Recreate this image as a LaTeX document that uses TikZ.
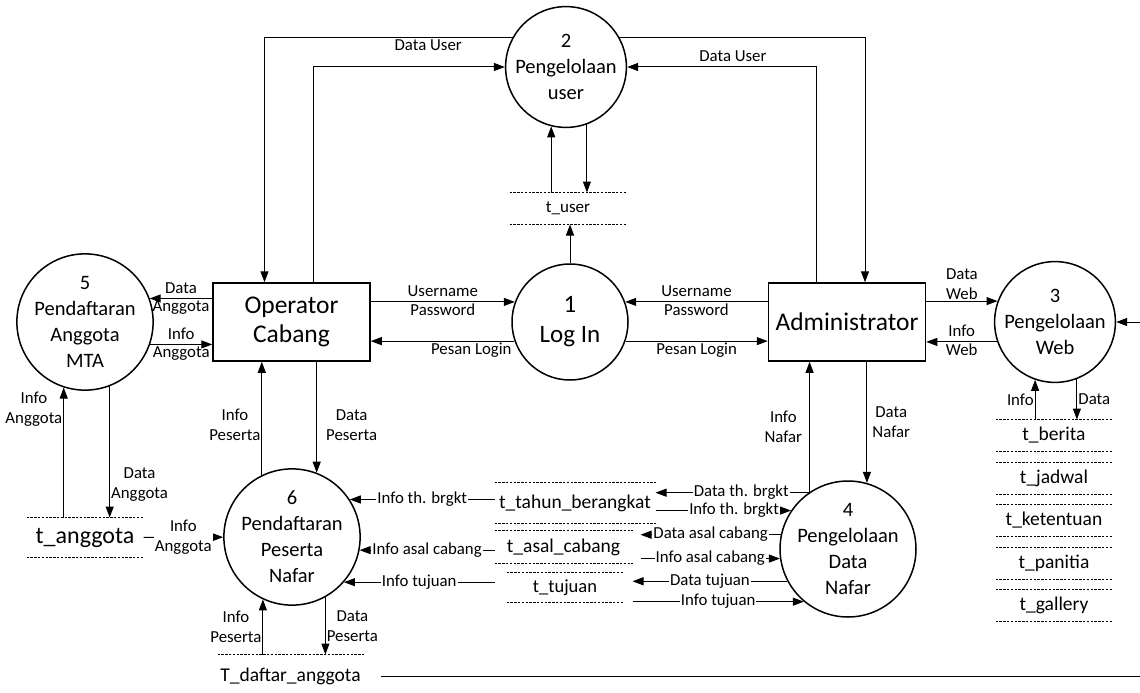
\documentclass[tikz,border=0pt]{standalone}
\usepackage{fontspec}
\setmainfont{Carlito}
\usetikzlibrary{arrows.meta}

\begin{document}
\begin{tikzpicture}[->,>={Triangle[length=11pt,width=8pt]},x=1pt,y=-1pt,
        line width=1pt,node distance=42.5pt,
        proc/.style={circle,draw,line width=1.5pt,minimum size=116pt,inner sep=0pt,
          align=center,font=\fontsize{20.5}{26}\selectfont},
        ent/.style={rectangle,draw,line width=1.5pt,minimum width=157pt,minimum height=78pt,
          align=center,font=\fontsize{25.5}{29}\selectfont},
        store/.style={minimum width=116pt,minimum height=31pt,inner sep=0pt,
          font=\fontsize{19.5}{22}\selectfont},
        dots/.style={-,line width=0.8pt,dash pattern=on 2.4pt off 1.4pt},
        lbl/.style={font=\fontsize{16.8}{20}\selectfont,align=center,inner sep=1pt},
        lbl1/.style={lbl,text height=12pt,text depth=3.5pt}]

  \useasboundingbox (0,0) rectangle (1140,693);

  % proses
  \node[proc,font=\fontsize{25}{30}\selectfont] (1) at (570,322) {1\\Log In};
  \node[proc] (2) at (566,67) {2\\Pengelolaan\\user};
  \node[proc] (3) at (1055,322) {3\\Pengelolaan\\Web};
  \node[proc] (4) at (848,549) {4\\Pengelolaan\\Data\\Nafar};
  \node[proc] (5) at (85,322) {5\\Pendaftaran\\Anggota\\MTA};
  \node[proc] (6) at (292,537) {6\\Pendaftaran\\Peserta\\Nafar};

  % entitas
  \node[ent] (oc) at (291.5,322) {Operator\\Cabang};
  \node[ent] (adm) at (847,322) {Administrator};

  % data store
  \node[store,font=\fontsize{17}{20}\selectfont] (tuser) at (568,208.5) {t\_user};
  \node[store] (tberita) at (1054,435.5) {t\_berita};
  \node[store] (tjadwal) [below of=tberita] {t\_jadwal};
  \node[store] (tketentuan) [below of=tjadwal] {t\_ketentuan};
  \node[store] (tpanitia) [below of=tketentuan] {t\_panitia};
  \node[store] (tgallery) [below of=tpanitia] {t\_gallery};
  \node[store,minimum height=39pt,font=\fontsize{24}{28}\selectfont] (tanggota) at (85,537.5) {t\_anggota};
  \node[store,minimum width=160pt,minimum height=40pt] (ttahun) at (575,503) {t\_tahun\_berangkat};
  \node[store,minimum width=137pt,minimum height=32pt] (tasal) at (563.5,547) {t\_asal\_cabang};
  \node[store,minimum height=29pt,font=\fontsize{18.5}{22}\selectfont] (ttujuan) at (565,587.5) {t\_tujuan};
  \node[store,minimum width=145pt,minimum height=42pt] (tdaftar) at (290.5,676) {T\_daftar\_anggota};

  \foreach \s in {tuser,tberita,tjadwal,tketentuan,tpanitia,tgallery,tanggota,ttahun,tasal,ttujuan}
    \draw[dots] (\s.north west) -- (\s.north east) (\s.south west) -- (\s.south east);
  \draw[dots] (tdaftar.north west) -- (tdaftar.north east);

  \coordinate (rimA) at (1140,322);
  \coordinate (rimB) at (1140,676);
  \coordinate (ra) at ([xshift=8pt]tasal.east);
  \coordinate (rt) at ([xshift=9pt]ttujuan.east);

  % alur data
  \draw (2.151) -| node[lbl1,below,pos=0.17] {Data User} ([xshift=-27pt]oc.north);
  \draw (2.29) -| ([xshift=18pt]adm.north);
  \draw ([xshift=22pt]oc.north) |- (2.west);
  \draw ([xshift=-31pt]adm.north) |- node[lbl1,above,pos=0.72] {Data User} (2.east);

  \path (tuser.north -| 2.256) edge (2.256)
        (2.290) edge (2.290 |- tuser.north)
        (1.north) edge (1.north |- tuser.south);

  \path (oc.west |- 5.20) edge node[lbl1,above] {Data} node[lbl1,below] {Anggota} (5.20)
        (5.-19) edge node[lbl1,above] {Info} node[lbl1,below] {Anggota} (5.-19 -| oc.west)
        (oc.east |- 1.160) edge node[lbl1,above] {Username} node[lbl1,below] {Password} (1.160)
        (1.199) edge node[lbl1,below,pos=0.3] {Pesan Login} (1.199 -| oc.east)
        (adm.west |- 1.20) edge node[lbl1,above] {Username} node[lbl1,below] {Password} (1.20)
        (1.-19) edge node[lbl1,below] {Pesan Login} (1.-19 -| adm.west)
        (adm.east |- 3.160) edge node[lbl,above] {Data\\Web} (3.160)
        (3.199) edge node[lbl1,above] {Info} node[lbl1,below] {Web} (3.199 -| adm.east)
        (rimA) edge (3.east);

  \path (tberita.north -| 3.251) edge node[lbl,left] {Info} (3.251)
        (3.291) edge node[lbl,right] {Data} (3.291 |- tberita.north)
        (4.124) edge node[lbl,left,xshift=-6pt] {Info\\Nafar} (4.124 |- adm.south)
        (4.74 |- adm.south) edge node[lbl,right,xshift=4pt] {Data\\Nafar} (4.74)
        (6.116) edge node[lbl,left,pos=0.44] {Info\\Peserta} (6.116 |- oc.south)
        (6.69 |- oc.south) edge node[lbl,right,xshift=8pt,pos=0.57] {Data\\Peserta} (6.69)
        (tanggota.north -| 5.252) edge node[lbl,left,pos=0.83] {Info\\Anggota} (5.252)
        (5.291) edge node[lbl,right,pos=0.75] {Data\\Anggota} (5.291 |- tanggota.north)
        (tanggota) edge node[lbl,fill=white] {Info\\Anggota} (6)
        (tdaftar.north -| 6.245) edge node[lbl,left] {Info\\Peserta} (6.245)
        (6.299) edge node[lbl,right] {Data\\Peserta} (6.299 |- tdaftar.north);

  \draw[-] ([xshift=17pt]tdaftar.east) -- (rimB);

  \path (6.33 -| ttahun.west) edge node[lbl1,fill=white] {Info th. brgkt} (6.33)
        (6.-11 -| ttahun.west) edge node[lbl1,fill=white] {Info asal cabang} (6.-11)
        (6.-41 -| ttahun.west) edge node[lbl1,fill=white] {Info tujuan} (6.-41);
  \path (4.125) edge node[lbl1,fill=white,pos=0.44] {Data th. brgkt} (4.125 -| ttahun.east)
        (4.146 -| ttahun.east) edge node[lbl1,fill=white,pos=0.58] {Info th. brgkt} (4.146)
        (4.168) edge node[lbl1,fill=white] {Data asal cabang} (4.168 -| ra)
        (4.188 -| ra) edge node[lbl1,fill=white] {Info asal cabang} (4.188)
        (4.208) edge node[lbl1,fill=white] {Data tujuan} (4.208 -| rt)
        (4.230 -| rt) edge node[lbl1,fill=white] {Info tujuan} (4.230);

\end{tikzpicture}
\end{document}
